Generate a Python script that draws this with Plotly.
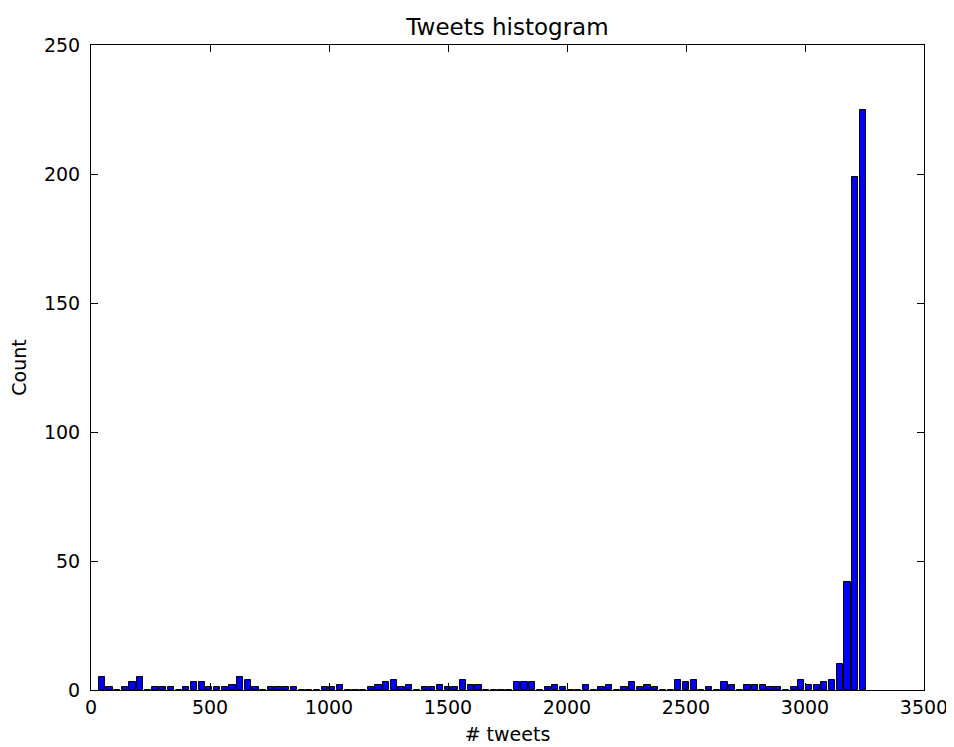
import plotly.graph_objects as go

# Histogram data (100 bins)
bin_start = 29.0
bin_width = 32.3
counts = [5, 1, 0, 1, 3, 5, 0, 1, 1, 1,
          0, 1, 3, 3, 1, 1, 1, 2, 5, 4,
          1, 0, 1, 1, 1, 1, 0, 0, 0, 1,
          1, 2, 0, 0, 0, 1, 2, 3, 4, 1,
          2, 0, 1, 1, 2, 1, 1, 4, 2, 2,
          0, 0, 0, 0, 3, 3, 3, 0, 1, 2,
          1, 0, 0, 2, 0, 1, 2, 0, 1, 3,
          1, 2, 1, 0, 0, 4, 3, 4, 0, 1,
          0, 3, 2, 0, 2, 2, 2, 1, 1, 0,
          1, 4, 2, 2, 3, 4, 10, 42, 199, 225]
x_ticks = [0, 500, 1000, 1500, 2000, 2500, 3000, 3500]
y_ticks = [0, 50, 100, 150, 200, 250]

centers = [bin_start + bin_width * (i + 0.5) for i in range(len(counts))]

fig = go.Figure(go.Bar(
    x=centers, y=counts, width=bin_width * 0.8,
    marker=dict(color="#0000ff", line=dict(color="black", width=1)),
))

font = "DejaVu Sans, sans-serif"
axis_common = dict(
    showline=True, linecolor="black", linewidth=1, mirror="ticks",
    ticks="inside", ticklen=7, tickcolor="black", tickwidth=1,
    showgrid=False, zeroline=False, automargin=False,
    tickfont=dict(family=font, size=19, color="black"),
)
# page has an 8px body margin, so the figure is sized 946x739
fig.update_layout(
    width=946, height=739,
    margin=dict(l=83, r=30, t=37, b=57),
    paper_bgcolor="white", plot_bgcolor="white",
    title=dict(text="Tweets histogram", xref="paper", x=0.5, xanchor="center",
               y=1 - 19 / 739, yanchor="middle",
               font=dict(family=font, size=23, color="black")),
    xaxis=dict(range=[0, 3500], tickvals=x_ticks,
               title=dict(text="# tweets", font=dict(family=font, size=19, color="black"), standoff=10),
               **axis_common),
    yaxis=dict(range=[0, 250], tickvals=y_ticks, ticklabelstandoff=6,
               title=dict(text="Count", font=dict(family=font, size=19, color="black"), standoff=20),
               **axis_common),
    showlegend=False,
    bargap=0,
)
fig.write_html("out.html")
